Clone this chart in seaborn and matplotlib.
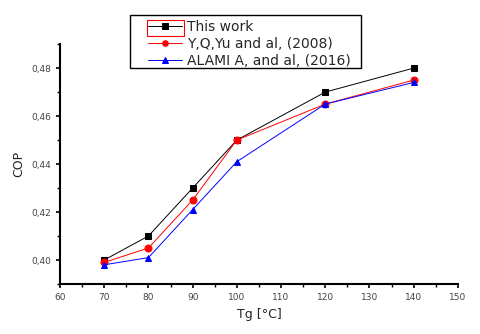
import matplotlib
matplotlib.use("Agg")
import matplotlib.pyplot as plt
import seaborn as sns
import pandas as pd
from matplotlib.ticker import MultipleLocator, FuncFormatter
from matplotlib.patches import Rectangle

tg = [70, 80, 90, 100, 120, 140]
this_work = [0.400, 0.410, 0.430, 0.450, 0.470, 0.480]
yu_2008 = [0.399, 0.405, 0.425, 0.450, 0.465, 0.475]
alami_2016 = [0.398, 0.401, 0.421, 0.441, 0.465, 0.474]
labels = ["This work", "Y,Q,Yu and al, (2008)", "ALAMI A, and al, (2016)"]
colors = ["black", "red", "blue"]
markers = ["s", "o", "^"]

sns.set_style("white")
plt.rcParams['font.family'] = ['DejaVu Sans']

fig = plt.figure(figsize=(4.8, 3.34), dpi=100)
ax = fig.add_axes([0.125, 0.1497, 0.829, 0.7183])

for vals, lab, c, m in zip([this_work, yu_2008, alami_2016], labels, colors, markers):
    df = pd.DataFrame({"Tg": tg, "COP": vals})
    sns.lineplot(data=df, x="Tg", y="COP", ax=ax, color=c, marker=m, markersize=5,
                 linewidth=0.7, markeredgecolor=c, label=lab)

ax.set_xlim(60, 150)
ax.set_ylim(0.39, 0.49)
ax.xaxis.set_major_locator(MultipleLocator(10))
ax.xaxis.set_minor_locator(MultipleLocator(5))
ax.yaxis.set_major_locator(MultipleLocator(0.02))
ax.yaxis.set_minor_locator(MultipleLocator(0.01))
ax.yaxis.set_major_formatter(FuncFormatter(lambda v, p: f"{v:.2f}".replace(".", ",")))
ax.tick_params(axis="both", which="major", direction="out", length=3, width=1.2,
               labelsize=6.5, labelcolor="#444444", color="black")
ax.tick_params(axis="both", which="minor", direction="out", length=2, width=1, color="black")
ax.tick_params(bottom=True, left=True, which="both")
for s in ["top", "right"]:
    ax.spines[s].set_visible(False)
for s in ["left", "bottom"]:
    ax.spines[s].set_linewidth(1.5)
    ax.spines[s].set_color("black")
ax.set_xlabel("Tg [°C]", fontsize=9, color="#222222")
ax.set_ylabel("COP", fontsize=9, color="#222222")

ax.get_legend().remove()
handles, labs = ax.get_legend_handles_labels()
# legend frame drawn manually to match the reference box
fig.patches.append(Rectangle((130/480, 1 - 68/334), 231/480, 53/334, transform=fig.transFigure,
                             facecolor="white", edgecolor="black", linewidth=1.0, zorder=4))
leg = fig.legend(handles, labs, loc="upper left", bbox_to_anchor=(148/480, 1 - 20/334),
                 fontsize=10, frameon=False, handlelength=2.45, borderpad=0,
                 labelspacing=0.22, handletextpad=0.35, borderaxespad=0, markerscale=0.8)
leg.set_zorder(5)
fig.patches.append(Rectangle((147/480, 1 - 36/334), 37/480, 16/334, transform=fig.transFigure,
                             fill=False, edgecolor="red", linewidth=0.8, zorder=6))

fig.savefig("out.png", dpi=100)
